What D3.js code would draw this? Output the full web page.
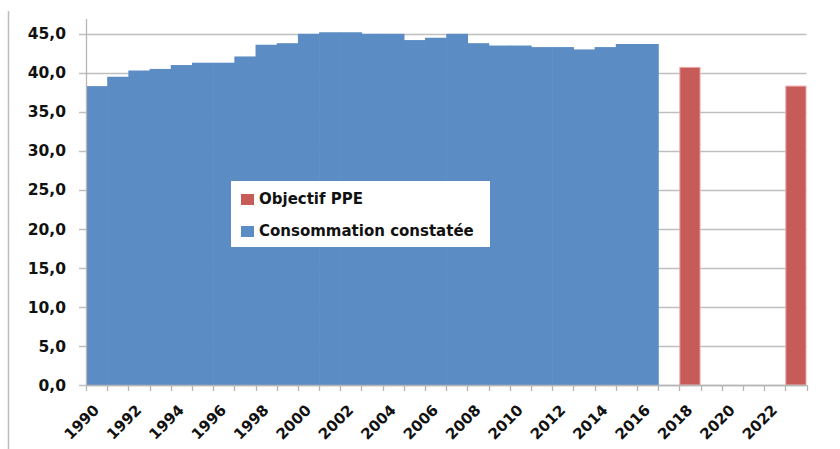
<!DOCTYPE html>
<html><head><meta charset="utf-8">
<script src="https://cdn.jsdelivr.net/npm/d3@7"></script>
<style>html,body{margin:0;padding:0;background:#fff;}svg{display:block;}</style>
</head><body>
<svg id="c" width="840" height="449"></svg>
<script>
const years = d3.range(1990, 2024).map(String);
const consoYears = ["1990","1991","1992","1993","1994","1995","1996","1997","1998","1999","2000","2001","2002","2003","2004","2005","2006","2007","2008","2009","2010","2011","2012","2013","2014","2015","2016"];
const consoValues = [38.3,39.5,40.3,40.5,41.0,41.3,41.3,42.1,43.6,43.8,45.0,45.2,45.2,45.0,45.0,44.2,44.5,45.0,43.8,43.5,43.5,43.3,43.3,43.0,43.3,43.7,43.7];
const ppeYears = ["2018","2023"];
const ppeValues = [40.7,38.3];
const yTicks = [0,5,10,15,20,25,30,35,40,45];
const xLabels = ["1990","1992","1994","1996","1998","2000","2002","2004","2006","2008","2010","2012","2014","2016","2018","2020","2022"];
const legendLabels = ["Objectif PPE","Consommation constatée"];
const colors = {ppe:"#c65b58", conso:"#5b8cc3"};

const svg = d3.select("#c");
const mLeft = 86, mRight = 806.5, mTop = 19, mBottom = 385;
const x = d3.scaleBand().domain(years).range([mLeft, mRight]).padding(0);
const y = d3.scaleLinear().domain([0, 46.9]).range([mBottom, mTop]);
const font = "'DejaVu Sans', Verdana, sans-serif";

// outer border (left edge)
svg.append("line").attr("x1",8.5).attr("x2",8.5).attr("y1",11).attr("y2",449).attr("stroke","#bdbdbd").attr("stroke-width",1.5);

// gridlines
svg.append("g").selectAll("line").data(yTicks).join("line")
  .attr("x1", mLeft-7).attr("x2", mRight).attr("y1", d=>Math.round(y(d))+0.5).attr("y2", d=>Math.round(y(d))+0.5)
  .attr("stroke","#bfbfbf").attr("stroke-width",1.3);

// bars
svg.append("g").selectAll("rect").data(consoYears.map((d,i)=>({k:d,v:consoValues[i]}))).join("rect")
  .attr("x", d=>x(d.k)).attr("width", x.bandwidth()+0.6)
  .attr("y", d=>y(d.v)).attr("height", d=>y(0)-y(d.v)).attr("fill", colors.conso);
svg.append("g").selectAll("rect").data(ppeYears.map((d,i)=>({k:d,v:ppeValues[i]}))).join("rect")
  .attr("x", d=>x(d.k)+0.5).attr("width", x.bandwidth()-1)
  .attr("y", d=>y(d.v)).attr("height", d=>y(0)-y(d.v)).attr("fill", colors.ppe)
  .attr("stroke","#eba9a7").attr("stroke-width",1);

// y axis
svg.append("line").attr("x1",mLeft+0.5).attr("x2",mLeft+0.5).attr("y1",mTop).attr("y2",mBottom).attr("stroke","#b5b5b5").attr("stroke-width",1.3);
svg.append("g").selectAll("text").data(yTicks).join("text")
  .attr("x", 66).attr("y", d=>y(d)).attr("dy","0.36em").attr("text-anchor","end")
  .attr("font-family",font).attr("font-weight","bold").attr("font-size",15.5).attr("fill","#111")
  .text(d=>d3.format(".1f")(d).replace(".",","));

// x axis
svg.append("line").attr("x1",mLeft).attr("x2",mRight).attr("y1",mBottom+0.5).attr("y2",mBottom+0.5).attr("stroke","#b5b5b5").attr("stroke-width",1.3);
const bounds = years.map(d=>x(d)).concat([mRight]);
svg.append("g").selectAll("line").data(bounds).join("line")
  .attr("x1",d=>Math.round(d)+0.5).attr("x2",d=>Math.round(d)+0.5).attr("y1",mBottom).attr("y2",mBottom+6)
  .attr("stroke","#b5b5b5").attr("stroke-width",1.3);
svg.append("g").selectAll("text").data(xLabels).join("text")
  .attr("transform", d=>`translate(${x(d)+x.bandwidth()/2+3.5},${mBottom+26}) rotate(-45)`)
  .attr("text-anchor","end")
  .attr("font-family",font).attr("font-weight","bold").attr("font-size",15).attr("fill","#111")
  .text(d=>d);

// legend
const lg = svg.append("g");
lg.append("rect").attr("x",231).attr("y",181).attr("width",259).attr("height",66).attr("fill","#fff");
const lc = [colors.ppe, colors.conso];
legendLabels.forEach((t,i)=>{
  lg.append("rect").attr("x",241).attr("y",194+i*32).attr("width",13).attr("height",11).attr("fill",lc[i]);
  lg.append("text").attr("x",259).attr("y",204+i*32).attr("font-family",font).attr("font-weight","bold")
    .attr("font-size",15).attr("fill","#111").text(t);
});
</script>
</body></html>
